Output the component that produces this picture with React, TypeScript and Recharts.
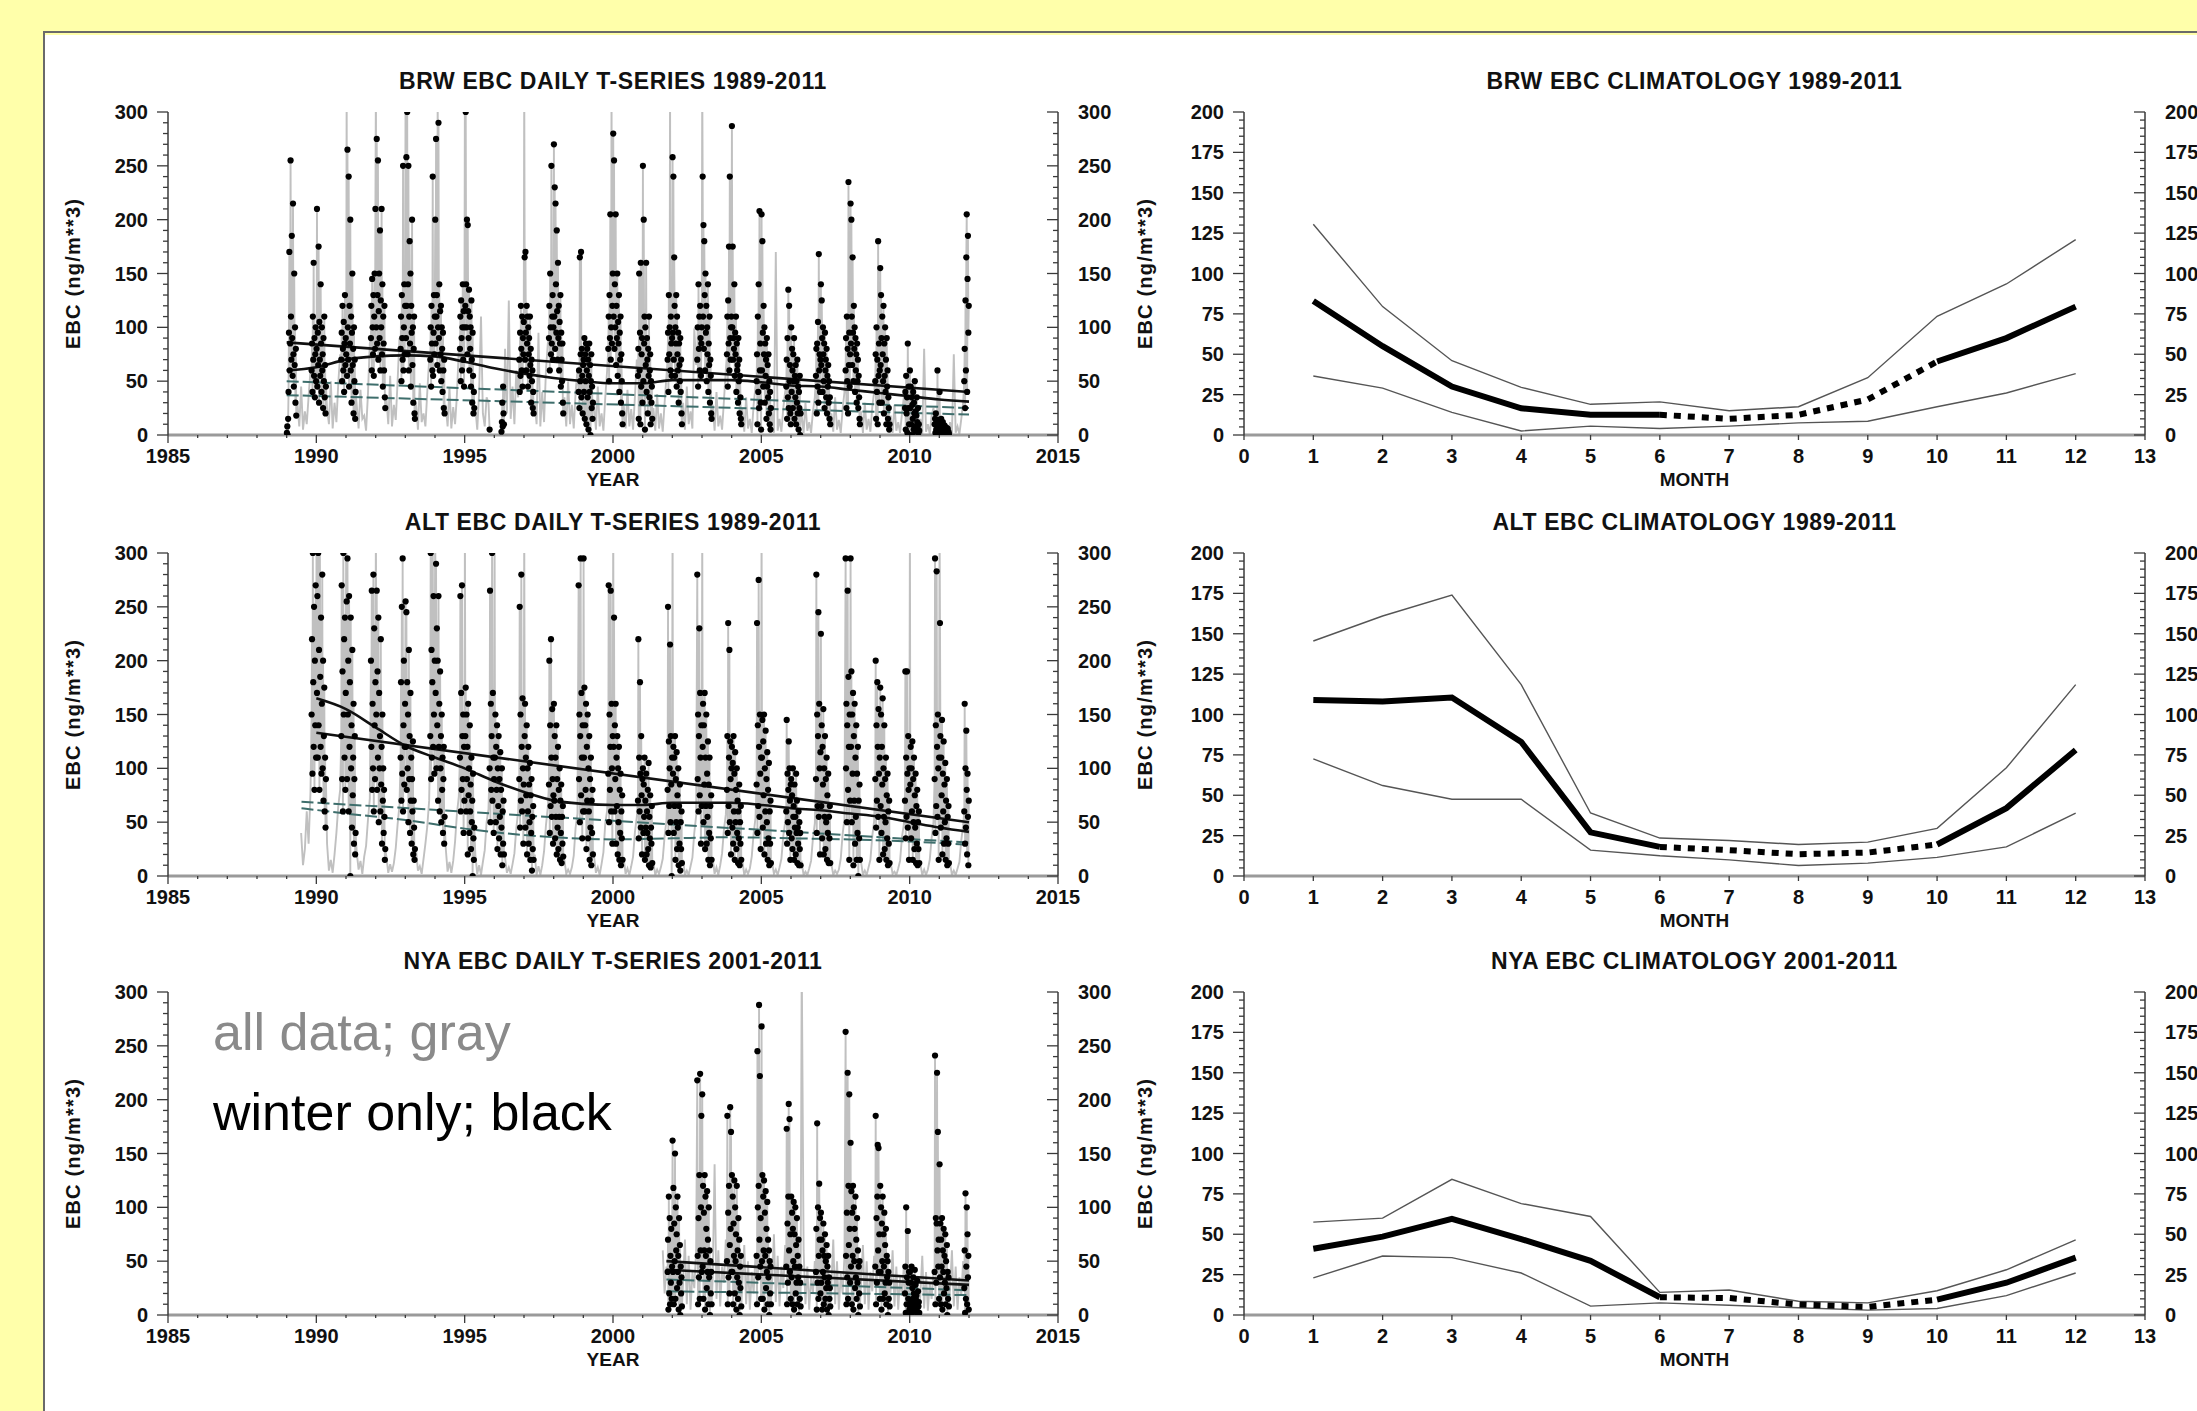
import React from 'react';
import { ComposedChart, Line, Scatter, XAxis, YAxis } from 'recharts';

const FONT = "'Liberation Sans', Arial, Helvetica, sans-serif";

// sample days of year of the plotted daily values
const DOY_JAN_APR = [3, 8, 13, 18, 23, 28, 33, 38, 43, 48, 53, 58, 63, 68, 73, 78, 83, 88, 93, 98, 103, 108, 113, 118];
const DOY_MAY_OCT = [132, 155, 178, 201, 224, 247, 270, 293];
const DOY_NOV_DEC = [307, 312, 317, 322, 327, 332, 337, 342, 347, 352, 357, 362];

const YEAR_TICKS = [1985, 1986, 1987, 1988, 1989, 1990, 1991, 1992, 1993, 1994, 1995, 1996, 1997, 1998, 1999, 2000, 2001, 2002, 2003, 2004, 2005, 2006, 2007, 2008, 2009, 2010, 2011, 2012, 2013, 2014, 2015];
const TS_Y_TICKS = [0, 10, 20, 30, 40, 50, 60, 70, 80, 90, 100, 110, 120, 130, 140, 150, 160, 170, 180, 190, 200, 210, 220, 230, 240, 250, 260, 270, 280, 290, 300];
const MONTH_TICKS = [0, 1, 2, 3, 4, 5, 6, 7, 8, 9, 10, 11, 12, 13];
const MONTH_TOP_TICKS = [3.25, 6.5, 9.75];
const CLIM_Y_TICKS = [0, 5, 10, 15, 20, 25, 30, 35, 40, 45, 50, 55, 60, 65, 70, 75, 80, 85, 90, 95, 100, 105, 110, 115, 120, 125, 130, 135, 140, 145, 150, 155, 160, 165, 170, 175, 180, 185, 190, 195, 200];

const N = null;

// ---------------- BRW daily ----------------
const BRW_YEARS = [1989, 1990, 1991, 1992, 1993, 1994, 1995, 1996, 1997, 1998, 1999, 2000, 2001, 2002, 2003, 2004, 2005, 2006, 2007, 2008, 2009, 2010, 2011];
const BRW_JAN_APR = [
  [2, 8, 0, 15, 40, 95, 170, 60, 85, 255, 110, 70, 185, 90, 55, 215, 75, 45, 150, 65, 100, 30, 80, 18],
  [80, 210, 45, 95, 65, 175, 30, 105, 70, 55, 140, 85, 40, 100, 60, 75, 25, 90, 50, 110, 35, 65, 20, 45],
  [75, 330, 55, 265, 100, 70, 240, 45, 120, 85, 200, 60, 110, 30, 95, 150, 65, 80, 20, 100, 50, 70, 15, 40],
  [330, 100, 275, 85, 130, 255, 70, 115, 150, 90, 190, 60, 125, 100, 210, 75, 140, 45, 110, 85, 60, 120, 35, 25],
  [330, 90, 258, 120, 300, 75, 140, 250, 60, 110, 180, 85, 150, 45, 120, 95, 200, 65, 100, 30, 80, 110, 20, 15],
  [200, 85, 275, 110, 130, 65, 330, 100, 290, 90, 140, 60, 115, 75, 120, 50, 100, 80, 40, 95, 60, 25, 70, 20],
  [330, 120, 300, 140, 100, 200, 75, 195, 115, 90, 135, 60, 110, 80, 100, 45, 125, 70, 30, 95, 55, 20, 40, 25],
  [N, N, N, N, N, N, N, N, N, N, N, N, N, N, N, N, N, 3, 12, 30, 8, 45, 20, 10],
  [330, 165, 70, 170, 95, 60, 120, 85, 110, 45, 100, 75, 90, 55, 110, 65, 80, 30, 70, 50, 60, 25, 40, 20],
  [270, 110, 230, 80, 215, 140, 95, 190, 115, 70, 160, 90, 120, 60, 105, 85, 130, 45, 95, 70, 50, 85, 30, 20],
  [70, 40, 90, 15, 75, 50, 85, 10, 60, 80, 35, 70, 5, 55, 85, 40, 65, 0, 50, 75, 25, 45, 15, 30],
  [280, 110, 255, 80, 140, 100, 205, 65, 120, 90, 150, 55, 105, 85, 130, 40, 95, 70, 110, 30, 75, 50, 20, 10],
  [250, 50, 200, 85, 110, 5, 100, 65, 160, 40, 90, 70, 20, 80, 55, 110, 35, 60, 75, 10, 50, 30, 45, 15],
  [258, 95, 240, 70, 165, 120, 55, 100, 85, 130, 45, 110, 75, 60, 95, 30, 85, 65, 50, 90, 40, 70, 20, 10],
  [330, 240, 110, 195, 80, 180, 130, 60, 150, 95, 120, 50, 100, 75, 140, 40, 85, 65, 110, 30, 70, 55, 20, 15],
  [287, 100, 175, 70, 90, 80, 140, 55, 95, 75, 110, 40, 85, 60, 65, 30, 90, 50, 70, 20, 55, 35, 15, 10],
  [205, 60, 180, 95, 45, 120, 75, 100, 30, 85, 55, 70, 15, 90, 45, 65, 35, 75, 20, 50, 10, 40, 5, 25],
  [100, 40, 80, 60, 25, 75, 50, 90, 15, 55, 35, 65, 10, 50, 30, 70, 20, 45, 5, 40, 25, 55, 0, 20],
  [140, 65, 125, 90, 40, 100, 75, 50, 85, 25, 95, 60, 70, 35, 80, 20, 55, 45, 65, 30, 50, 15, 35, 10],
  [215, 85, 200, 110, 65, 165, 95, 50, 120, 80, 100, 40, 90, 60, 75, 30, 85, 50, 70, 25, 55, 35, 15, 10],
  [155, 65, 130, 90, 30, 110, 75, 50, 120, 20, 85, 55, 100, 40, 70, 10, 90, 45, 60, 15, 35, 25, 5, 10],
  [60, 25, 45, 10, 35, 0, 28, 15, 40, 5, 30, 20, 50, 8, 22, 3, 18, 35, 12, 6, 25, 2, 10, 4],
  [40, 5, 10, 2, 15, 0, 8, 3, 12, 1, 6, 4, 9, 0, 5, 2, 7, 1, 4, 0, 6, 2, 3, 1],
];
const BRW_MAY_OCT = [
  [30, 8, 45, 5, 22, 10, 36, 60],
  [25, 10, 50, 6, 30, 12, 48, 75],
  [28, 6, 42, 15, 18, 4, 38, 85],
  [35, 10, 55, 8, 28, 14, 50, 90],
  [30, 5, 48, 12, 20, 8, 40, 70],
  [28, 8, 44, 6, 26, 10, 38, 80],
  [25, 5, 40, 110, 20, 8, 35, 30],
  [80, 20, 125, 15, 45, 10, 60, 35],
  [30, 10, 95, 8, 40, 12, 60, 85],
  [35, 8, 50, 10, 28, 6, 40, 60],
  [30, 5, 45, 8, 20, 4, 35, 60],
  [28, 6, 42, 8, 24, 5, 36, 70],
  [25, 4, 38, 6, 20, 3, 30, 55],
  [30, 5, 45, 10, 22, 6, 99, 65],
  [28, 4, 40, 8, 18, 5, 32, 60],
  [25, 3, 35, 6, 15, 2, 28, 45],
  [20, 2, 170, 4, 15, 3, 25, 40],
  [18, 2, 30, 4, 12, 2, 22, 35],
  [20, 3, 35, 5, 14, 2, 24, 40],
  [22, 2, 30, 5, 15, 3, 26, 40],
  [18, 2, 28, 4, 12, 2, 20, 35],
  [15, 1, 80, 3, 10, 1, 18, 25],
  [12, 1, 75, 2, 8, 1, 15, 30],
];
const BRW_NOV_DEC = [
  [60, 85, 40, 110, 70, 160, 55, 90, 35, 75, 100, 50],
  [70, 95, 50, 120, 80, 60, 105, 40, 85, 130, 65, 90],
  [90, 120, 60, 145, 100, 75, 130, 55, 110, 150, 80, 210],
  [80, 110, 50, 130, 90, 70, 250, 60, 100, 140, 75, 120],
  [70, 100, 45, 120, 85, 60, 240, 55, 95, 130, 75, 110],
  [80, 110, 50, 125, 90, 60, 100, 140, 70, 115, 45, 100],
  [5, N, N, N, N, N, N, N, N, N, N, N],
  [70, 40, 95, 55, 120, 80, 60, 110, 45, 90, 75, 105],
  [90, 120, 60, 150, 100, 75, 250, 85, 110, 130, 70, 100],
  [40, 60, 25, 165, 50, 75, 170, 35, 80, 55, 20, 65],
  [80, 110, 50, 130, 90, 205, 70, 100, 330, 85, 120, 150],
  [55, 80, 15, 150, 60, 95, 10, 160, 45, 75, 90, 30],
  [70, 95, 40, 130, 75, 100, 330, 60, 110, 85, 55, 90],
  [70, 100, 45, 140, 80, 110, 60, 120, 90, 55, 85, 100],
  [75, 110, 45, 125, 85, 175, 60, 240, 90, 70, 100, 110],
  [50, 75, 10, 110, 40, 140, 25, 208, 60, 85, 30, 5],
  [45, 70, 15, 90, 35, 135, 25, 120, 50, 65, 20, 10],
  [55, 80, 20, 85, 45, 105, 30, 168, 60, 75, 40, 70],
  [60, 90, 25, 110, 50, 80, 20, 235, 65, 95, 45, 75],
  [50, 75, 15, 100, 40, 70, 10, 180, 55, 85, 30, 60],
  [25, 40, 5, 55, 20, 35, 2, 85, 25, 45, 10, 0],
  [10, 15, 2, 20, 5, 12, 0, 60, 8, 14, 3, 6],
  [50, 80, 25, 125, 60, 165, 205, 40, 145, 185, 95, 120],
];

// ---------------- ALT daily ----------------
const ALT_YEARS = [1989, 1990, 1991, 1992, 1993, 1994, 1995, 1996, 1997, 1998, 1999, 2000, 2001, 2002, 2003, 2004, 2005, 2006, 2007, 2008, 2009, 2010, 2011];
const ALT_JAN_APR = [
  [N, N, N, N, N, N, N, N, N, N, N, N, N, N, N, N, N, N, N, N, N, N, N, N],
  [330, 170, 260, 110, 300, 140, 210, 80, 330, 185, 120, 240, 95, 160, 280, 100, 200, 70, 130, 175, 60, 110, 45, 90],
  [330, 255, 90, 295, 150, 200, 60, 260, 120, 180, 0, 240, 100, 140, 45, 210, 75, 110, 160, 30, 90, 130, 20, 40],
  [330, 150, 265, 80, 190, 110, 240, 50, 170, 100, 130, 60, 220, 85, 120, 30, 150, 70, 100, 40, 80, 55, 15, 25],
  [255, 120, 245, 80, 180, 100, 150, 50, 210, 90, 130, 40, 170, 70, 110, 30, 90, 60, 125, 20, 70, 45, 15, 25],
  [330, 170, 290, 100, 230, 140, 200, 70, 260, 120, 160, 60, 190, 100, 130, 50, 150, 80, 110, 40, 90, 120, 30, 55],
  [330, 130, 175, 60, 150, 90, 120, 20, 160, 75, 100, 40, 140, 60, 85, 25, 110, 50, 70, 0, 95, 35, 15, 45],
  [330, 110, 150, 50, 120, 80, 140, 25, 100, 65, 130, 35, 90, 55, 115, 20, 80, 45, 100, 10, 60, 30, 70, 20],
  [330, 130, 160, 45, 110, 75, 140, 20, 100, 60, 120, 30, 85, 50, 105, 15, 75, 40, 90, 5, 55, 25, 65, 15],
  [160, 70, 130, 35, 110, 55, 140, 20, 90, 45, 120, 25, 80, 55, 100, 15, 70, 40, 85, 12, 55, 30, 65, 18],
  [295, 110, 175, 60, 140, 80, 160, 25, 120, 70, 150, 35, 100, 60, 130, 15, 90, 45, 110, 10, 70, 40, 80, 20],
  [330, 120, 240, 60, 140, 90, 160, 30, 110, 65, 130, 20, 100, 50, 120, 15, 80, 40, 95, 10, 60, 35, 75, 15],
  [100, 40, 85, 55, 110, 15, 70, 45, 95, 20, 60, 40, 80, 25, 105, 10, 55, 35, 75, 8, 45, 30, 65, 12],
  [330, 95, 120, 40, 110, 65, 130, 15, 90, 50, 115, 25, 75, 45, 100, 10, 65, 30, 85, 5, 50, 25, 60, 12],
  [330, 120, 160, 50, 140, 85, 170, 25, 110, 65, 150, 30, 95, 55, 125, 15, 85, 40, 110, 10, 65, 35, 75, 15],
  [120, 45, 105, 30, 130, 60, 95, 15, 115, 50, 80, 25, 100, 40, 70, 12, 60, 35, 85, 10, 50, 30, 65, 15],
  [330, 110, 145, 45, 125, 75, 150, 20, 100, 60, 135, 30, 90, 50, 115, 15, 80, 35, 105, 10, 60, 30, 70, 12],
  [90, 35, 75, 25, 100, 55, 65, 15, 85, 45, 55, 20, 95, 40, 70, 12, 45, 30, 60, 10, 50, 25, 40, 10],
  [225, 65, 140, 35, 120, 85, 155, 20, 100, 55, 130, 25, 90, 50, 110, 15, 75, 40, 95, 12, 55, 35, 65, 12],
  [295, 120, 190, 50, 150, 95, 170, 10, 130, 70, 160, 30, 110, 55, 140, 15, 95, 40, 120, 0, 70, 35, 85, 15],
  [175, 65, 150, 40, 120, 85, 165, 20, 100, 55, 140, 25, 90, 50, 110, 15, 75, 35, 95, 10, 60, 30, 70, 12],
  [330, 85, 120, 35, 100, 60, 125, 15, 90, 50, 110, 25, 75, 45, 95, 12, 65, 30, 80, 10, 50, 25, 60, 12],
  [330, 235, 130, 45, 110, 75, 145, 20, 95, 60, 125, 30, 85, 50, 105, 15, 70, 35, 90, 10, 55, 30, 65, 12],
];
const ALT_MAY_OCT = [
  [N, N, 40, 10, 25, 60, 30, 78],
  [30, 5, 15, 3, 20, 40, 65, 80],
  [22, 6, 14, 2, 18, 28, 52, 72],
  [18, 3, 11, 4, 12, 26, 48, 66],
  [24, 5, 9, 2, 16, 30, 46, 70],
  [26, 4, 13, 3, 14, 32, 58, 74],
  [19, 2, 10, 1, 13, 24, 50, 62],
  [17, 3, 8, 2, 11, 21, 44, 60],
  [20, 1, 9, 1, 10, 23, 47, 64],
  [15, 2, 6, 2, 8, 19, 45, 58],
  [18, 3, 8, 1, 11, 22, 49, 61],
  [16, 2, 7, 1, 9, 18, 41, 55],
  [13, 1, 6, 2, 8, 16, 37, 52],
  [15, 1, 5, 1, 9, 17, 40, 56],
  [16, 2, 8, 1, 10, 21, 43, 57],
  [14, 1, 6, 2, 7, 18, 39, 54],
  [13, 2, 6, 1, 8, 16, 37, 50],
  [12, 1, 4, 1, 7, 14, 35, 49],
  [11, 1, 5, 2, 6, 16, 39, 53],
  [13, 1, 5, 1, 8, 15, 37, 51],
  [12, 2, 4, 1, 7, 14, 36, 48],
  [11, 1, 6, 1, 6, 15, 35, 50],
  [12, 1, 5, 1, 7, 13, 33, 47],
];
const ALT_NOV_DEC = [
  [150, 220, 95, 300, 180, 120, 250, 80, 200, 140, 270, 110],
  [130, 270, 90, 190, 60, 300, 150, 220, 110, 240, 80, 170],
  [200, 120, 265, 80, 160, 100, 280, 60, 230, 140, 90, 180],
  [110, 180, 70, 250, 95, 295, 60, 140, 200, 85, 120, 160],
  [130, 300, 90, 210, 110, 180, 330, 120, 260, 150, 95, 200],
  [110, 260, 60, 170, 80, 270, 130, 90, 150, 40, 120, 70],
  [100, 265, 50, 160, 80, 130, 300, 70, 170, 110, 40, 90],
  [90, 250, 45, 150, 70, 280, 120, 60, 165, 100, 30, 85],
  [85, 200, 40, 140, 65, 220, 110, 55, 155, 90, 30, 75],
  [270, 90, 150, 50, 130, 295, 75, 170, 110, 35, 140, 60],
  [95, 270, 50, 150, 80, 120, 265, 60, 160, 100, 30, 130],
  [70, 220, 35, 110, 60, 180, 95, 45, 130, 75, 20, 90],
  [80, 250, 40, 125, 65, 100, 215, 50, 130, 85, 0, 110],
  [280, 90, 150, 60, 130, 230, 75, 170, 110, 30, 140, 65],
  [80, 130, 40, 235, 65, 110, 210, 50, 125, 90, 20, 100],
  [85, 235, 40, 140, 65, 275, 120, 55, 150, 95, 25, 110],
  [60, 145, 30, 95, 50, 80, 125, 40, 100, 70, 15, 85],
  [90, 280, 40, 150, 65, 130, 245, 55, 160, 100, 20, 115],
  [295, 100, 160, 50, 140, 265, 80, 185, 120, 15, 150, 70],
  [90, 200, 45, 140, 70, 180, 120, 55, 155, 95, 15, 110],
  [70, 190, 35, 110, 55, 190, 95, 45, 130, 80, 15, 100],
  [90, 295, 40, 140, 65, 283, 120, 55, 150, 100, 15, 110],
  [60, 160, 30, 100, 45, 135, 80, 20, 95, 55, 10, 70],
];

// ---------------- NYA daily ----------------
const NYA_YEARS = [2001, 2002, 2003, 2004, 2005, 2006, 2007, 2008, 2009, 2010, 2011];
const NYA_JAN_APR = [
  [N, N, N, N, N, N, N, N, N, N, N, N, N, N, N, N, N, N, N, N, N, N, N, N],
  [162, 40, 118, 10, 85, 50, 150, 15, 100, 60, 75, 25, 110, 40, 55, 5, 90, 30, 65, 0, 45, 20, 35, 8],
  [205, 45, 120, 15, 95, 60, 130, 5, 110, 55, 80, 25, 115, 40, 70, 10, 100, 35, 60, 0, 50, 20, 40, 10],
  [130, 40, 110, 10, 85, 55, 125, 20, 100, 50, 75, 5, 120, 35, 60, 15, 90, 30, 70, 0, 45, 25, 55, 8],
  [268, 50, 130, 15, 110, 60, 125, 5, 95, 55, 115, 25, 80, 40, 105, 10, 70, 35, 60, 0, 50, 20, 45, 10],
  [110, 35, 95, 10, 80, 50, 105, 5, 75, 45, 100, 20, 65, 30, 90, 10, 55, 35, 70, 0, 45, 15, 30, 8],
  [95, 30, 70, 5, 60, 40, 85, 10, 55, 35, 75, 15, 50, 25, 65, 5, 45, 30, 55, 0, 35, 15, 25, 8],
  [160, 45, 115, 10, 95, 55, 120, 5, 100, 50, 80, 25, 110, 35, 70, 15, 90, 30, 60, 0, 45, 20, 50, 8],
  [120, 40, 100, 5, 85, 50, 110, 15, 75, 45, 95, 20, 65, 30, 80, 10, 55, 35, 50, 0, 40, 15, 30, 8],
  [40, 8, 30, 12, 45, 2, 25, 15, 35, 5, 20, 10, 42, 3, 28, 14, 18, 6, 32, 0, 22, 8, 12, 2],
  [140, 35, 85, 10, 70, 45, 90, 5, 60, 40, 80, 20, 55, 30, 75, 10, 50, 25, 65, 0, 40, 15, 35, 8],
];
const NYA_MAY_OCT = [
  [N, N, N, N, N, 60, 20, 45],
  [30, 70, 10, 55, 5, 40, 25, 60],
  [35, 140, 15, 60, 8, 45, 30, 70],
  [30, 65, 10, 50, 5, 40, 20, 55],
  [30, 75, 12, 55, 8, 45, 25, 65],
  [330, 60, 10, 45, 5, 35, 20, 50],
  [28, 70, 10, 50, 5, 38, 20, 55],
  [30, 65, 10, 50, 5, 40, 22, 55],
  [25, 60, 8, 45, 5, 35, 18, 45],
  [20, 55, 6, 40, 4, 30, 15, 40],
  [25, 60, 8, 45, 5, 35, 18, 50],
];
const NYA_NOV_DEC = [
  [40, 70, 5, 110, 20, 90, 10, 55, 30, 80, 15, 45],
  [218, 55, 10, 90, 35, 130, 15, 224, 60, 100, 185, 40],
  [50, 185, 10, 95, 35, 120, 20, 65, 193, 80, 170, 40],
  [55, 10, 245, 100, 35, 120, 288, 70, 222, 45, 90, 15],
  [45, 173, 10, 85, 30, 110, 196, 60, 182, 40, 75, 15],
  [40, 80, 5, 178, 30, 100, 15, 55, 122, 70, 90, 20],
  [263, 55, 10, 95, 35, 225, 15, 120, 65, 205, 80, 30],
  [45, 185, 10, 90, 30, 110, 158, 60, 155, 40, 75, 15],
  [20, 45, 2, 100, 10, 35, 0, 78, 15, 30, 40, 5],
  [40, 241, 10, 90, 30, 85, 225, 60, 170, 45, 70, 15],
  [25, 60, 2, 113, 15, 45, 100, 10, 75, 35, 55, 5],
];

// ---------------- trend curves (year, value) ----------------
const BRW_FIT_YEARS = [1989, 2012];
const BRW_FIT = [86, 40];
const BRW_SMOOTH_YEARS = [1989, 1990, 1991, 1992, 1993, 1994, 1995, 1996, 1997, 1998, 1999, 2000, 2001, 2002, 2003, 2004, 2005, 2006, 2007, 2008, 2009, 2010, 2011, 2012];
const BRW_SMOOTH = [60, 63, 70, 73, 74, 73, 68, 62, 57, 53, 50, 48, 48, 51, 51, 51, 49, 46, 45, 42, 39, 36, 33, 31];
const BRW_ALL_FIT = [50, 25];
const BRW_ALL_SMOOTH = [37, 19];

const ALT_FIT_YEARS = [1990, 2012];
const ALT_FIT = [133, 50];
const ALT_SMOOTH_YEARS = [1990, 1991, 1992, 1993, 1994, 1995, 1996, 1997, 1998, 1999, 2000, 2001, 2002, 2003, 2004, 2005, 2006, 2007, 2008, 2009, 2010, 2011, 2012];
const ALT_SMOOTH = [165, 155, 138, 121, 110, 100, 88, 78, 70, 67, 66, 66, 68, 68, 68, 66, 63, 61, 58, 55, 50, 45, 41];
const ALT_ALL_FIT_YEARS = [1989.5, 2012];
const ALT_ALL_FIT = [69, 31];
const ALT_ALL_SMOOTH_YEARS = [1989.5, 1991, 1993, 1995, 1997, 1998, 2000, 2002, 2004, 2006, 2008, 2010, 2012];
const ALT_ALL_SMOOTH = [63, 58, 52, 44, 38, 36, 34, 35, 36, 35, 34, 32, 29];

const NYA_FIT_YEARS = [2001.8, 2012];
const NYA_FIT = [50, 32];
const NYA_SMOOTH = [42, 28];
const NYA_ALL_FIT = [33, 23];
const NYA_ALL_SMOOTH = [22, 18.5];

// ---------------- climatologies ----------------
const MONTHS = [1, 2, 3, 4, 5, 6, 7, 8, 9, 10, 11, 12];
const BRW_MEAN = [83, 55, 30, 16.5, 12.5, 12.5, 10, 12.5, 22, 45.5, 60, 79.5];
const BRW_UPPER = [130.5, 79.5, 46, 29.5, 19, 20.5, 15, 17.5, 35.5, 73.5, 93.5, 121];
const BRW_LOWER = [36.5, 29, 14, 2.5, 5.5, 4, 5.5, 7.5, 8.5, 17.5, 26, 38];
const ALT_MEAN = [109, 108, 110.5, 83, 27, 18, 16, 13.5, 14.5, 19.5, 42, 78];
const ALT_UPPER = [145.5, 161, 174, 118.5, 39, 23.5, 22, 19.5, 21, 29.5, 67, 118.5];
const ALT_LOWER = [72.5, 56, 47.5, 47.5, 16, 12.5, 10, 6.5, 8, 11.5, 18, 39];
const NYA_MEAN = [41, 48.5, 59.5, 47, 33.5, 11, 10.5, 6.5, 5, 9.5, 20, 35.5];
const NYA_UPPER = [57.5, 60, 84, 69, 61, 14, 15.5, 8.5, 7.5, 15, 28, 46.5];
const NYA_LOWER = [23, 36.5, 35.5, 26, 5.5, 7.5, 6, 4.5, 3, 4, 12, 26];

type Val = number | null;
type Pt = { t: number; v: Val };

function buildDaily(years: number[], ja: Val[][], mo: Val[][], nd: Val[][]): Pt[] {
  const out: Pt[] = [];
  years.forEach((y, i) => {
    DOY_JAN_APR.forEach((d, j) => out.push({ t: y + d / 365, v: ja[i][j] }));
    DOY_MAY_OCT.forEach((d, j) => out.push({ t: y + d / 365, v: mo[i][j] }));
    DOY_NOV_DEC.forEach((d, j) => out.push({ t: y + d / 365, v: nd[i][j] }));
  });
  return out;
}
function buildWinter(years: number[], ja: Val[][], nd: Val[][]): Pt[] {
  const out: Pt[] = [];
  years.forEach((y, i) => {
    DOY_JAN_APR.forEach((d, j) => { if (ja[i][j] !== null) out.push({ t: y + d / 365, v: ja[i][j] }); });
    DOY_NOV_DEC.forEach((d, j) => { if (nd[i][j] !== null) out.push({ t: y + d / 365, v: nd[i][j] }); });
  });
  return out;
}
const zip = (ts: number[], vs: number[]): Pt[] => ts.map((t, i) => ({ t, v: vs[i] }));

function climRows(mean: number[], up: number[], lo: number[]) {
  return MONTHS.map((m, i) => ({
    m,
    up: up[i],
    lo: lo[i],
    solid: m <= 6 || m >= 10 ? mean[i] : null,
    dotted: m >= 6 && m <= 10 ? mean[i] : null,
  }));
}

const TICK_STYLE: React.CSSProperties = { fontFamily: FONT, fontWeight: 700, fontSize: 20, fill: '#111' };
const AX = '#3a3a3a';

const XTick = (p: any) => {
  const { x, y, payload, majorEvery, minorLen, majorLen, showLabel } = p;
  const v = payload.value;
  const major = majorEvery ? Math.abs(v % majorEvery) < 1e-6 : true;
  const len = major ? majorLen : minorLen;
  return (
    <g>
      <line x1={x} x2={x} y1={y} y2={y + len} stroke={AX} strokeWidth={1.3} />
      {showLabel && major ? (
        <text x={x} y={y + 28} textAnchor="middle" style={TICK_STYLE}>{v}</text>
      ) : null}
    </g>
  );
};

const YTick = (p: any) => {
  const { x, y, payload, majorEvery, side } = p;
  const v = payload.value;
  const major = v % majorEvery === 0;
  const len = major ? 11 : 5;
  if (side === 'left') {
    return (
      <g>
        <line x1={x} x2={x - len} y1={y} y2={y} stroke={AX} strokeWidth={1.3} />
        {major ? <text x={x - 20} y={y + 7} textAnchor="end" style={TICK_STYLE}>{v}</text> : null}
      </g>
    );
  }
  return (
    <g>
      <line x1={x} x2={x - len} y1={y} y2={y} stroke={AX} strokeWidth={1.3} />
      {major ? <text x={x + 20} y={y + 7} textAnchor="start" style={TICK_STYLE}>{v}</text> : null}
    </g>
  );
};

const Dot = (p: any) => <circle cx={p.cx} cy={p.cy} r={3.1} fill="#000" />;

const TEAL = '#3e6e6c';

type Trend = { data: Pt[]; kind: 'black' | 'teal'; smooth?: boolean };

function TSeriesChart({ left, top, all, winter, trends }: { left: number; top: number; all: Pt[]; winter: Pt[]; trends: Trend[] }) {
  return (
    <div style={{ position: 'absolute', left, top }}>
      <ComposedChart width={1090} height={413} margin={{ top: 40, right: 22, bottom: 10, left: 58 }}>
        <XAxis xAxisId="b" type="number" dataKey="t" domain={[1985, 2015]} ticks={YEAR_TICKS} interval={0} allowDataOverflow height={40} tickSize={0} tickMargin={0} tickLine={false} axisLine={{ stroke: '#9a9a9a', strokeWidth: 3 }} tick={<XTick majorEvery={5} minorLen={3} majorLen={8} showLabel />} />
        <XAxis xAxisId="t" orientation="top" type="number" domain={[1985, 2015]} ticks={YEAR_TICKS} interval={0} allowDataOverflow height={0} tickSize={0} tickMargin={0} tickLine={false} axisLine={{ stroke: AX, strokeWidth: 1.5 }} tick={<XTick majorEvery={5} minorLen={3} majorLen={8} />} />
        <YAxis yAxisId="l" type="number" domain={[0, 300]} ticks={TS_Y_TICKS} interval={0} allowDataOverflow width={60} tickSize={0} tickMargin={0} tickLine={false} axisLine={{ stroke: AX, strokeWidth: 1.5 }} tick={<YTick majorEvery={50} side="left" />} />
        <YAxis yAxisId="r" orientation="right" type="number" domain={[0, 300]} ticks={TS_Y_TICKS} interval={0} allowDataOverflow width={60} tickSize={0} tickMargin={0} tickLine={false} axisLine={{ stroke: AX, strokeWidth: 1.5 }} tick={<YTick majorEvery={50} side="right" />} />
        <Line xAxisId="b" yAxisId="l" data={all} dataKey="v" type="linear" stroke="#c0c0c0" strokeWidth={1.9} dot={false} activeDot={false} connectNulls={false} isAnimationActive={false} />
        <Scatter xAxisId="b" yAxisId="l" data={winter} dataKey="v" shape={<Dot />} isAnimationActive={false} />
        {trends.map((tr, i) => (
          <Line key={i} xAxisId="b" yAxisId="l" data={tr.data} dataKey="v" type={tr.smooth ? 'monotone' : 'linear'} stroke={tr.kind === 'black' ? '#111' : TEAL} strokeWidth={tr.kind === 'black' ? 2.6 : 2} strokeDasharray={tr.kind === 'teal' ? '12 4' : undefined} dot={false} activeDot={false} isAnimationActive={false} />
        ))}
      </ComposedChart>
    </div>
  );
}

function ClimChart({ top, rows }: { top: number; rows: ReturnType<typeof climRows> }) {
  return (
    <div style={{ position: 'absolute', left: 1100, top }}>
      <ComposedChart width={1097} height={413} data={rows} margin={{ top: 40, right: 0, bottom: 10, left: 84 }}>
        <XAxis xAxisId="b" type="number" dataKey="m" domain={[0, 13]} ticks={MONTH_TICKS} interval={0} allowDataOverflow height={40} tickSize={0} tickMargin={0} tickLine={false} axisLine={{ stroke: '#9a9a9a', strokeWidth: 3 }} tick={<XTick minorLen={5} majorLen={5} showLabel />} />
        <XAxis xAxisId="t" orientation="top" type="number" domain={[0, 13]} ticks={MONTH_TOP_TICKS} interval={0} allowDataOverflow height={0} tickSize={0} tickMargin={0} tickLine={false} axisLine={{ stroke: AX, strokeWidth: 1.5 }} tick={<XTick minorLen={6} majorLen={6} />} />
        <YAxis yAxisId="l" type="number" domain={[0, 200]} ticks={CLIM_Y_TICKS} interval={0} allowDataOverflow width={60} tickSize={0} tickMargin={0} tickLine={false} axisLine={{ stroke: AX, strokeWidth: 1.5 }} tick={<YTick majorEvery={25} side="left" />} />
        <YAxis yAxisId="r" orientation="right" type="number" domain={[0, 200]} ticks={CLIM_Y_TICKS} interval={0} allowDataOverflow width={52} tickSize={0} tickMargin={0} tickLine={false} axisLine={{ stroke: AX, strokeWidth: 1.5 }} tick={<YTick majorEvery={25} side="right" />} />
        <Line xAxisId="b" yAxisId="l" dataKey="up" type="linear" stroke="#555" strokeWidth={1.4} dot={false} activeDot={false} isAnimationActive={false} />
        <Line xAxisId="b" yAxisId="l" dataKey="lo" type="linear" stroke="#555" strokeWidth={1.4} dot={false} activeDot={false} isAnimationActive={false} />
        <Line xAxisId="b" yAxisId="l" dataKey="solid" type="linear" stroke="#000" strokeWidth={6} dot={false} activeDot={false} connectNulls={false} isAnimationActive={false} />
        <Line xAxisId="b" yAxisId="l" dataKey="dotted" type="linear" stroke="#000" strokeWidth={6} strokeDasharray="7 7" dot={false} activeDot={false} connectNulls={false} isAnimationActive={false} />
      </ComposedChart>
    </div>
  );
}

const ROWS = [
  { top: 112, bottom: 435, ts: 'BRW EBC DAILY T-SERIES 1989-2011', cl: 'BRW EBC CLIMATOLOGY 1989-2011' },
  { top: 553, bottom: 876, ts: 'ALT EBC DAILY T-SERIES 1989-2011', cl: 'ALT EBC CLIMATOLOGY 1989-2011' },
  { top: 992, bottom: 1315, ts: 'NYA EBC DAILY T-SERIES 2001-2011', cl: 'NYA EBC CLIMATOLOGY 2001-2011' },
];

const TITLE_STYLE: React.CSSProperties = { fontFamily: FONT, fontWeight: 700, fontSize: 23, letterSpacing: 0.6, fill: '#111' };
const AXT_STYLE: React.CSSProperties = { fontFamily: FONT, fontWeight: 700, fontSize: 19, fill: '#111' };
const YLAB_STYLE: React.CSSProperties = { fontFamily: FONT, fontWeight: 700, fontSize: 20, letterSpacing: 1.2, fill: '#111' };

export default function App() {
  const brwAll = buildDaily(BRW_YEARS, BRW_JAN_APR, BRW_MAY_OCT, BRW_NOV_DEC);
  const brwWin = buildWinter(BRW_YEARS, BRW_JAN_APR, BRW_NOV_DEC);
  const altAll = buildDaily(ALT_YEARS, ALT_JAN_APR, ALT_MAY_OCT, ALT_NOV_DEC);
  const altWin = buildWinter(ALT_YEARS, ALT_JAN_APR, ALT_NOV_DEC);
  const nyaAll = buildDaily(NYA_YEARS, NYA_JAN_APR, NYA_MAY_OCT, NYA_NOV_DEC);
  const nyaWin = buildWinter(NYA_YEARS, NYA_JAN_APR, NYA_NOV_DEC);

  const brwTrends: Trend[] = [
    { data: zip(BRW_FIT_YEARS, BRW_ALL_FIT), kind: 'teal' },
    { data: zip(BRW_FIT_YEARS, BRW_ALL_SMOOTH), kind: 'teal' },
    { data: zip(BRW_FIT_YEARS, BRW_FIT), kind: 'black' },
    { data: zip(BRW_SMOOTH_YEARS, BRW_SMOOTH), kind: 'black', smooth: true },
  ];
  const altTrends: Trend[] = [
    { data: zip(ALT_ALL_FIT_YEARS, ALT_ALL_FIT), kind: 'teal' },
    { data: zip(ALT_ALL_SMOOTH_YEARS, ALT_ALL_SMOOTH), kind: 'teal', smooth: true },
    { data: zip(ALT_FIT_YEARS, ALT_FIT), kind: 'black' },
    { data: zip(ALT_SMOOTH_YEARS, ALT_SMOOTH), kind: 'black', smooth: true },
  ];
  const nyaTrends: Trend[] = [
    { data: zip(NYA_FIT_YEARS, NYA_ALL_FIT), kind: 'teal' },
    { data: zip(NYA_FIT_YEARS, NYA_ALL_SMOOTH), kind: 'teal' },
    { data: zip(NYA_FIT_YEARS, NYA_FIT), kind: 'black' },
    { data: zip(NYA_FIT_YEARS, NYA_SMOOTH), kind: 'black' },
  ];

  return (
    <div style={{ position: 'absolute', left: 0, top: 0, width: 2197, height: 1411, overflow: 'hidden', background: '#FFFFAA' }}>
      <div style={{ position: 'absolute', left: 43, top: 31, right: 0, bottom: 0, background: '#fff', borderLeft: '2px solid #6a6a6a', borderTop: '2px solid #6a6a6a', boxShadow: 'inset 0 2px 0 #FFFFAA' }} />
      <TSeriesChart left={50} top={ROWS[0].top - 40} all={brwAll} winter={brwWin} trends={brwTrends} />
      <TSeriesChart left={50} top={ROWS[1].top - 40} all={altAll} winter={altWin} trends={altTrends} />
      <TSeriesChart left={50} top={ROWS[2].top - 40} all={nyaAll} winter={nyaWin} trends={nyaTrends} />
      <ClimChart top={ROWS[0].top - 40} rows={climRows(BRW_MEAN, BRW_UPPER, BRW_LOWER)} />
      <ClimChart top={ROWS[1].top - 40} rows={climRows(ALT_MEAN, ALT_UPPER, ALT_LOWER)} />
      <ClimChart top={ROWS[2].top - 40} rows={climRows(NYA_MEAN, NYA_UPPER, NYA_LOWER)} />
      <svg width={2197} height={1411} style={{ position: 'absolute', left: 0, top: 0, pointerEvents: 'none' }}>
        {ROWS.map((r, i) => {
          const cy = (r.top + r.bottom) / 2;
          return (
            <g key={i}>
              <text x={613} y={r.top - 23} textAnchor="middle" style={TITLE_STYLE}>{r.ts}</text>
              <text x={1694.5} y={r.top - 23} textAnchor="middle" style={TITLE_STYLE}>{r.cl}</text>
              <text x={613} y={r.bottom + 51} textAnchor="middle" style={AXT_STYLE}>YEAR</text>
              <text x={1694.5} y={r.bottom + 51} textAnchor="middle" style={AXT_STYLE}>MONTH</text>
              <text transform={`translate(73, ${cy}) rotate(-90)`} textAnchor="middle" dominantBaseline="central" style={YLAB_STYLE}>EBC (ng/m**3)</text>
              <text transform={`translate(1145, ${cy}) rotate(-90)`} textAnchor="middle" dominantBaseline="central" style={YLAB_STYLE}>EBC (ng/m**3)</text>
            </g>
          );
        })}
        <text x={213} y={1050} style={{ fontFamily: FONT, fontSize: 52, fill: '#8a8a8a' }}>all data; gray</text>
        <text x={213} y={1130} style={{ fontFamily: FONT, fontSize: 52, fill: '#000' }}>winter only; black</text>
      </svg>
    </div>
  );
}
